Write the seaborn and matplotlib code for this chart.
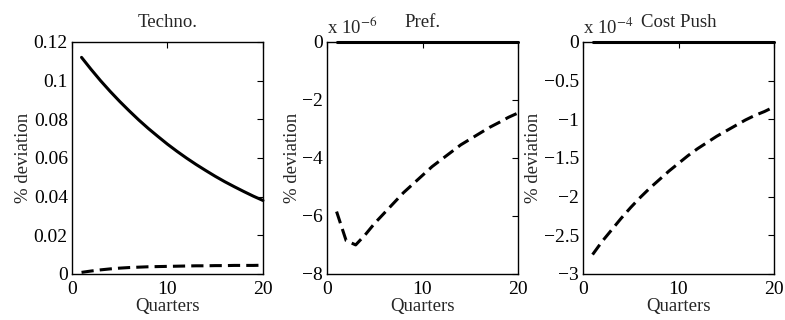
import numpy as np
import pandas as pd
import seaborn as sns
import matplotlib.pyplot as plt

# impulse responses, quarters 1..20
quarters = list(range(1, 21))

techno_solid = [0.112, 0.1058, 0.0999, 0.0944, 0.0892, 0.0843, 0.0796, 0.0752, 0.0711, 0.0671,
                0.0634, 0.0599, 0.0566, 0.0535, 0.0505, 0.0477, 0.0451, 0.0426, 0.0402, 0.038]
techno_dashed = [0.0008, 0.0015, 0.0021, 0.0026, 0.0030, 0.0033, 0.0035, 0.0037, 0.0038, 0.0039,
                 0.0040, 0.0041, 0.0042, 0.0042, 0.0043, 0.0043, 0.0044, 0.0044, 0.0044, 0.0045]

# in units of 1e-6
pref_solid = [0.0] * 20
pref_dashed = [-5.85, -6.85, -7.0, -6.65, -6.25, -5.9, -5.55, -5.2, -4.9, -4.6,
               -4.3, -4.05, -3.8, -3.55, -3.35, -3.15, -2.95, -2.78, -2.6, -2.45]

# in units of 1e-4
cost_solid = [0.0] * 20
cost_dashed = [-2.75, -2.58, -2.43, -2.28, -2.14, -2.01, -1.89, -1.78, -1.67, -1.57,
               -1.47, -1.38, -1.30, -1.22, -1.15, -1.08, -1.01, -0.95, -0.90, -0.84]

titles = ["Techno.", "Pref.", "Cost Push"]
multipliers = [None, "x 10$^{-6}$", "x 10$^{-4}$"]
ylims = [(0, 0.12), (-8, 0), (-3, 0)]
yticks = [[0, 0.02, 0.04, 0.06, 0.08, 0.1, 0.12],
          [-8, -6, -4, -2, 0],
          [-3, -2.5, -2, -1.5, -1, -0.5, 0]]
yticklabels = [["0", "0.02", "0.04", "0.06", "0.08", "0.1", "0.12"],
               ["\u22128", "\u22126", "\u22124", "\u22122", "0"],
               ["\u22123", "\u22122.5", "\u22122", "\u22121.5", "\u22121", "\u22120.5", "0"]]

sns.set_style("white")
plt.rcParams.update({'font.family': ['Liberation Serif', 'DejaVu Serif'],
                     'mathtext.fontset': 'stix',
                     'axes.edgecolor': 'black',
                     'axes.linewidth': 1.0,
                     'xtick.direction': 'in', 'ytick.direction': 'in',
                     'xtick.top': True, 'ytick.right': True,
                     'xtick.major.size': 4, 'ytick.major.size': 4})

fig = plt.figure(figsize=(7.85, 3.2), dpi=100)
lefts = [0.0917, 0.4166, 0.7427]
series = [(techno_solid, techno_dashed), (pref_solid, pref_dashed), (cost_solid, cost_dashed)]

for i in range(3):
    ax = fig.add_axes([lefts[i], 0.144, 0.2433, 0.725])
    solid, dashed = series[i]
    df = pd.DataFrame({'q': quarters, 'solid': solid, 'dashed': dashed})
    sns.lineplot(data=df, x='q', y='solid', ax=ax, color='black', lw=2.2, clip_on=False)
    sns.lineplot(data=df, x='q', y='dashed', ax=ax, color='black', lw=2.2,
                 dashes=False, linestyle=(0, (4, 2)), clip_on=False)
    ax.set_xlim(0, 20)
    ax.set_ylim(*ylims[i])
    ax.set_xticks([0, 10, 20])
    ax.set_xticklabels(["0", "10", "20"], fontsize=14)
    ax.set_yticks(yticks[i])
    ax.set_yticklabels(yticklabels[i], fontsize=14)
    ax.tick_params(axis='x', pad=5, colors='black')
    ax.tick_params(axis='y', pad=3, colors='black')
    ax.set_xlabel("Quarters", fontsize=13.5, labelpad=0)
    ax.set_ylabel("% deviation", fontsize=13.5, labelpad=1)
    ax.set_title(titles[i], fontsize=13.5, pad=11)
    if multipliers[i]:
        ax.text(0.0, 1.015, multipliers[i], transform=ax.transAxes, fontsize=13.5,
                ha='left', va='bottom')
    for s in ax.spines.values():
        s.set_visible(True)

fig.savefig("out.png", dpi=100)
